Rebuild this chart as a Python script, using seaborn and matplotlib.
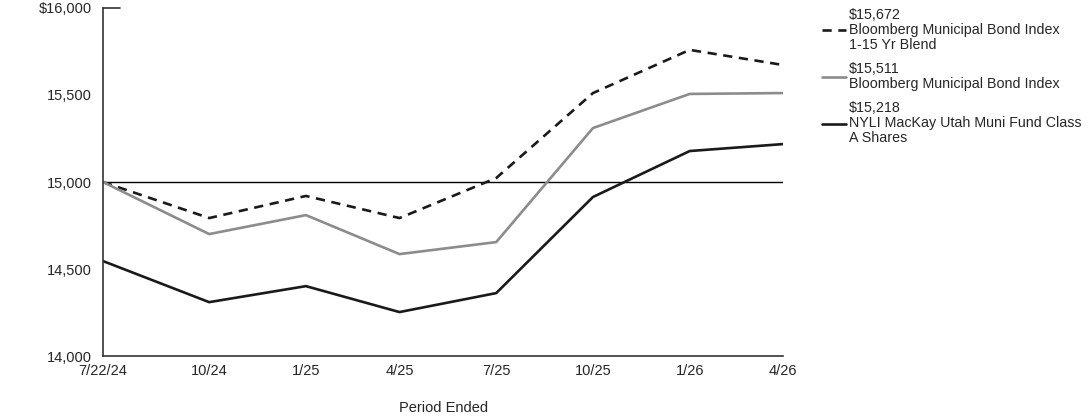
import numpy as np
import pandas as pd
import matplotlib
matplotlib.use("Agg")
import matplotlib.pyplot as plt
import seaborn as sns

# Growth of $15,000 investment
dates = ["2024-07-22", "2024-10-31", "2025-01-31", "2025-04-30",
         "2025-07-31", "2025-10-31", "2026-01-31", "2026-04-30"]
tick_labels = ["7/22/24", "10/24", "1/25", "4/25", "7/25", "10/25", "1/26", "4/26"]

blend_vals = [15000, 14793, 14920, 14793, 15023, 15511, 15759, 15672]
index_vals = [15000, 14701, 14810, 14586, 14655, 15310, 15506, 15511]
fund_vals = [14546, 14310, 14402, 14253, 14362, 14914, 15178, 15218]

labels = ["$15,672\nBloomberg Municipal Bond Index\n1-15 Yr Blend",
          "$15,511\nBloomberg Municipal Bond Index",
          "$15,218\nNYLI MacKay Utah Muni Fund Class\nA Shares"]

df = pd.DataFrame({"date": pd.to_datetime(dates),
                   "blend": blend_vals, "index": index_vals, "fund": fund_vals})

sns.set_style("white")
plt.rcParams["font.family"] = ["Liberation Sans", "DejaVu Sans"]
fs = 10.5

fig = plt.figure(figsize=(10.92, 4.17), dpi=100)
ax = fig.add_axes([0.0943, 0.146, 0.623, 0.835])

ax.axhline(15000, color="black", lw=1, zorder=1)
sns.lineplot(data=df, x="date", y="blend", ax=ax, color="#1a1a1a", lw=1.9,
             linestyle=(0, (3.5, 2.5)), label=labels[0])
sns.lineplot(data=df, x="date", y="index", ax=ax, color="#8c8c8c", lw=1.9,
             label=labels[1])
sns.lineplot(data=df, x="date", y="fund", ax=ax, color="#1a1a1a", lw=1.9,
             label=labels[2])

ax.set_xlim(df["date"].iloc[0], df["date"].iloc[-1])
ax.set_ylim(14000, 16000)
ax.set_xticks(df["date"])
ax.set_xticklabels(tick_labels)
ax.set_yticks([14000, 14500, 15000, 15500, 16000])
ax.set_yticklabels(["14,000", "14,500", "15,000", "15,500", "$16,000"])
ax.tick_params(axis="x", direction="in", length=6, width=1, color="#333333",
               pad=6, labelsize=fs)
ax.tick_params(axis="y", length=0, pad=8, labelsize=fs)
ax.axhline(16000, xmin=0, xmax=0.025, color="#333333", lw=1.2, clip_on=False)

for side in ["top", "right"]:
    ax.spines[side].set_visible(False)
for side in ["left", "bottom"]:
    ax.spines[side].set_color("#333333")
    ax.spines[side].set_linewidth(1.2)

ax.set_xlabel("Period Ended", fontsize=fs, labelpad=16)
ax.set_ylabel("")
ax.grid(False)

ax.get_legend().remove()
handles, lbls = ax.get_legend_handles_labels()
leg = fig.legend(handles, lbls, loc="upper left", bbox_to_anchor=(0.741, 1.012),
                 frameon=False, fontsize=10.3, handlelength=1.7, handletextpad=0.2,
                 labelspacing=0.7)
for t in leg.get_texts():
    t.set_linespacing(1.1)

fig.savefig("out.png", dpi=100)
